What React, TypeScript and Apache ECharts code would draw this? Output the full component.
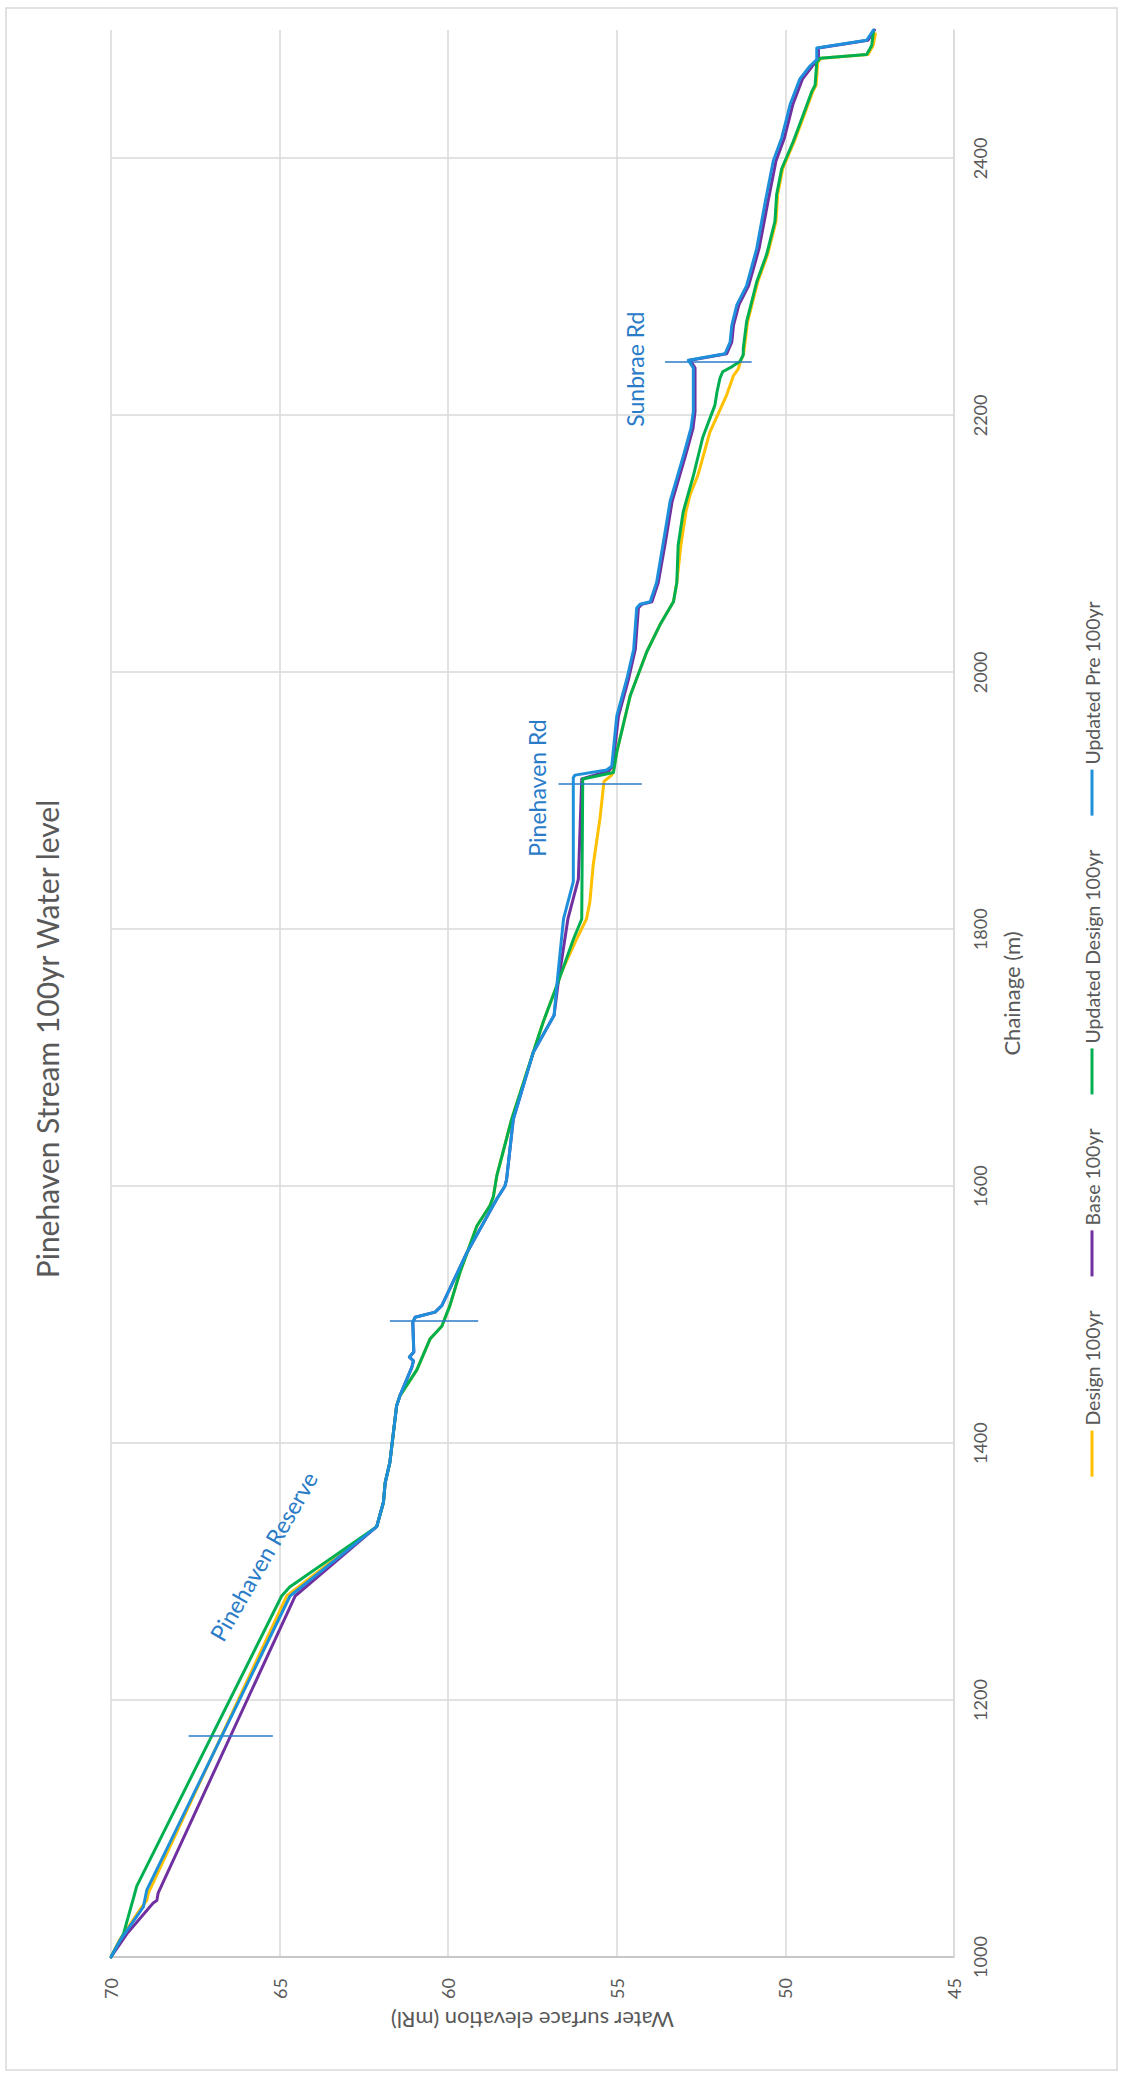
import React, { useEffect, useRef } from "react";
import * as echarts from "echarts";

// Page and chart geometry: the chart is laid out landscape and turned a quarter
// turn counter-clockwise so that it reads like a portrait page.
const PAGE_W = 1124;
const PAGE_H = 2078;

const TITLE = "Pinehaven Stream 100yr Water level";
const X_NAME = "Chainage (m)";
const Y_NAME = "Water surface elevation (mRl)";

const CHAINAGE_MIN = 1000;
const CHAINAGE_MAX = 2500;
const CHAINAGE_STEP = 200;
const LEVEL_MIN = 45;
const LEVEL_MAX = 70;
const LEVEL_STEP = 5;

const seriesNames = ["Design 100yr", "Base 100yr", "Updated Design 100yr", "Updated Pre 100yr"];
const seriesColors = ["#FFC000", "#7030A0", "#00B050", "#1E8FDB"];

// Design 100yr
const designChainage = [
  1000, 1013, 1037, 1044, 1050, 1281, 1335, 1354, 1369, 1385, 1429, 1437, 1457, 1481, 1491,
  1507, 1533, 1569, 1585, 1592, 1600, 1608, 1652, 1712, 1728, 1756, 1769, 1792, 1808, 1821,
  1850, 1886, 1915, 1920, 1924, 1938, 1982, 2016, 2037, 2055, 2070, 2099, 2125, 2138, 2153,
  2187, 2216, 2231, 2236, 2242, 2247, 2252, 2273, 2304, 2325, 2351, 2372, 2392, 2413, 2434,
  2452, 2457, 2475, 2478, 2481, 2488, 2497,
];
const designLevel = [
  70.0, 69.75, 69.14, 68.94, 68.89, 64.79, 62.12, 61.92, 61.87, 61.73, 61.53, 61.43, 60.93,
  60.54, 60.19, 59.95, 59.65, 59.15, 58.76, 58.66, 58.61, 58.56, 58.12, 57.38, 57.18, 56.78,
  56.6, 56.2, 55.9, 55.8, 55.7, 55.5, 55.38, 55.15, 55.1, 55.0, 54.6, 54.11, 53.72, 53.32,
  53.22, 53.1, 52.95, 52.83, 52.6, 52.24, 51.74, 51.54, 51.4, 51.33, 51.25, 51.22, 51.12,
  50.82, 50.53, 50.28, 50.23, 50.08, 49.74, 49.44, 49.19, 49.09, 49.04, 48.94, 47.55, 47.4,
  47.33,
];

// Base 100yr
const baseChainage = [
  1000, 1018, 1042, 1044, 1050, 1281, 1335, 1354, 1369, 1385, 1429, 1437, 1459, 1464, 1467,
  1471, 1494, 1498, 1502, 1507, 1548, 1590, 1600, 1605, 1652, 1704, 1733, 1756, 1808, 1839,
  1917, 1923, 1927, 1966, 1995, 2018, 2050, 2053, 2055, 2070, 2101, 2133, 2151, 2169, 2190,
  2203, 2237, 2243, 2248, 2257, 2270, 2286, 2301, 2330, 2366, 2398, 2416, 2442, 2462, 2472,
  2477, 2486, 2492, 2500,
];
const baseLevel = [
  70.0, 69.53, 68.75, 68.64, 68.6, 64.54, 62.12, 61.92, 61.87, 61.73, 61.53, 61.43, 61.08,
  61.03, 61.15, 61.02, 61.05, 60.98, 60.39, 60.19, 59.45, 58.56, 58.32, 58.27, 58.07, 57.48,
  56.86, 56.75, 56.45, 56.14, 56.04, 55.25, 55.12, 54.95, 54.65, 54.45, 54.36, 54.26, 53.96,
  53.77, 53.56, 53.36, 53.16, 52.96, 52.74, 52.68, 52.68, 52.83, 51.74, 51.59, 51.54, 51.38,
  51.09, 50.78, 50.52, 50.28, 50.03, 49.78, 49.49, 49.2, 49.02, 49.02, 47.55, 47.36,
];

// Updated Design 100yr
const updatedDesignChainage = [
  1000, 1018, 1050, 1055, 1281, 1288, 1335, 1354, 1369, 1385, 1429, 1437, 1457, 1481, 1491,
  1507, 1533, 1569, 1585, 1592, 1600, 1608, 1652, 1712, 1728, 1756, 1792, 1808, 1917, 1922,
  1938, 1982, 2016, 2037, 2055, 2070, 2099, 2125, 2153, 2183, 2208, 2218, 2229, 2234, 2238,
  2242, 2247, 2252, 2273, 2304, 2325, 2351, 2372, 2392, 2413, 2434, 2452, 2457, 2475, 2478,
  2481, 2488, 2499,
];
const updatedDesignLevel = [
  70.0, 69.63, 69.29, 69.24, 64.94, 64.7, 62.12, 61.92, 61.87, 61.73, 61.53, 61.43, 60.93,
  60.54, 60.19, 59.95, 59.65, 59.15, 58.76, 58.66, 58.61, 58.56, 58.12, 57.38, 57.18, 56.78,
  56.29, 56.04, 56.01, 55.1, 55.0, 54.6, 54.11, 53.72, 53.32, 53.22, 53.18, 53.03, 52.73,
  52.45, 52.09, 52.03, 51.94, 51.86, 51.58, 51.35, 51.25, 51.25, 51.15, 50.85, 50.56, 50.31,
  50.26, 50.11, 49.77, 49.47, 49.22, 49.12, 49.07, 48.97, 47.59, 47.44, 47.39,
];

// Updated Pre 100yr
const updatedPreChainage = [
  1000, 1013, 1039, 1052, 1281, 1335, 1354, 1369, 1385, 1429, 1437, 1459, 1464, 1467, 1471,
  1494, 1498, 1502, 1507, 1548, 1590, 1600, 1605, 1652, 1704, 1733, 1756, 1808, 1837, 1912,
  1918, 1920, 1924, 1927, 1966, 1995, 2018, 2050, 2053, 2055, 2070, 2101, 2133, 2151, 2169,
  2190, 2203, 2237, 2243, 2248, 2257, 2270, 2286, 2301, 2330, 2366, 2398, 2416, 2442, 2462,
  2472, 2477, 2486, 2492, 2500,
];
const updatedPreLevel = [
  70.0, 69.73, 69.04, 68.94, 64.69, 62.12, 61.92, 61.87, 61.73, 61.53, 61.43, 61.08, 61.03,
  61.15, 61.02, 61.05, 60.98, 60.39, 60.19, 59.45, 58.56, 58.32, 58.27, 58.07, 57.48, 56.86,
  56.78, 56.58, 56.29, 56.29, 56.29, 56.24, 55.3, 55.15, 55.0, 54.7, 54.5, 54.41, 54.31, 54.01,
  53.82, 53.62, 53.42, 53.22, 53.02, 52.8, 52.73, 52.73, 52.88, 51.79, 51.64, 51.59, 51.44,
  51.15, 50.85, 50.6, 50.36, 50.11, 49.86, 49.57, 49.27, 49.07, 49.07, 47.59, 47.39,
];

// Structure crossings: short markers across the profile
const crossingChainage = [1172, 1495, 1913, 2241];
const crossingLevelTop = [67.7, 61.73, 56.73, 53.57];
const crossingLevelBottom = [65.2, 59.11, 54.26, 51.0];

// Place labels along the stream
const placeNames = ["Pinehaven Reserve", "Pinehaven Rd", "Sunbrae Rd"];
const placeChainage = [1312, 1910, 2236];
const placeLevel = [65.48, 57.38, 54.47];
const placeAngleDeg = [-30, 0, 0];

const FONT = "Lato, 'Open Sans', sans-serif";
const TEXT_GREY = "#595959";
const GRID_GREY = "#D9D9D9";
const NOTE_BLUE = "#2A7BC8";

const pairs = (xs: number[], ys: number[]) => xs.map((x, i) => [x, ys[i]]);
const plainNumber = (v: number) => String(v);

export default function App() {
  const ref = useRef<HTMLDivElement>(null);

  useEffect(() => {
    if (!ref.current) return;
    const chart = echarts.init(ref.current, undefined, { renderer: "svg" });

    const seriesData = [
      pairs(designChainage, designLevel),
      pairs(baseChainage, baseLevel),
      pairs(updatedDesignChainage, updatedDesignLevel),
      pairs(updatedPreChainage, updatedPreLevel),
    ];

    const series: any[] = seriesNames.map((name, i) => ({
      name,
      type: "line",
      data: seriesData[i],
      showSymbol: false,
      symbol: "none",
      smooth: false,
      lineStyle: { color: seriesColors[i], width: 3, join: "round", cap: "round" },
      itemStyle: { color: seriesColors[i] },
      z: 2 + i,
    }));

    series[3].markLine = {
      silent: true,
      symbol: "none",
      label: { show: false },
      lineStyle: { color: NOTE_BLUE, width: 1.5, type: "solid" },
      data: crossingChainage.map((c, i) => [
        { coord: [c, crossingLevelTop[i]] },
        { coord: [c, crossingLevelBottom[i]] },
      ]),
    };

    chart.setOption({
      animation: false,
      backgroundColor: "#FFFFFF",
      title: {
        text: TITLE,
        left: "center",
        top: 27,
        textStyle: { fontFamily: FONT, fontSize: 30, fontWeight: "normal", color: TEXT_GREY },
      },
      legend: {
        data: seriesNames.map((n) => ({ name: n, icon: "rect" })),
        left: "center",
        top: 1082,
        padding: 0,
        itemWidth: 46,
        itemHeight: 3,
        itemGap: 34,
        textStyle: { fontFamily: FONT, fontSize: 19.5, color: TEXT_GREY },
      },
      grid: { left: 121, right: 30, top: 111, bottom: 170, containLabel: false },
      xAxis: {
        type: "value",
        min: CHAINAGE_MIN,
        max: CHAINAGE_MAX,
        interval: CHAINAGE_STEP,
        name: X_NAME,
        nameLocation: "middle",
        nameGap: 46,
        nameTextStyle: { fontFamily: FONT, fontSize: 22, color: TEXT_GREY },
        axisLine: { show: true, lineStyle: { color: GRID_GREY, width: 1.5 } },
        axisTick: { show: false },
        axisLabel: {
          showMaxLabel: false,
          margin: 17,
          formatter: plainNumber,
          fontFamily: FONT,
          fontSize: 18,
          color: TEXT_GREY,
        },
        splitLine: { show: true, showMaxLine: false, lineStyle: { color: GRID_GREY, width: 1.5 } },
      },
      yAxis: {
        type: "value",
        min: LEVEL_MIN,
        max: LEVEL_MAX,
        interval: LEVEL_STEP,
        name: Y_NAME,
        nameLocation: "middle",
        nameRotate: 90,
        nameGap: 48,
        nameTextStyle: { fontFamily: FONT, fontSize: 22, color: TEXT_GREY },
        axisLine: { show: true, lineStyle: { color: "#BFBFBF", width: 1.5 } },
        axisTick: { show: false },
        axisLabel: {
          margin: 21,
          formatter: plainNumber,
          fontFamily: FONT,
          fontSize: 18,
          color: TEXT_GREY,
        },
        splitLine: { show: true, lineStyle: { color: GRID_GREY, width: 1.5 } },
      },
      series,
    });

    // Place labels positioned through the axes' own scales
    const notes = placeNames.map((name, i) => {
      const [px, py] = chart.convertToPixel({ xAxisIndex: 0, yAxisIndex: 0 }, [
        placeChainage[i],
        placeLevel[i],
      ]) as number[];
      return {
        type: "text",
        id: "note" + i,
        x: px,
        y: py,
        rotation: (placeAngleDeg[i] * Math.PI) / 180,
        z: 20,
        style: {
          text: name,
          fontFamily: FONT,
          fontSize: 23,
          fill: NOTE_BLUE,
          align: "center",
          verticalAlign: "middle",
        },
      };
    });

    chart.setOption({
      graphic: [
        {
          type: "rect",
          id: "frame",
          z: 0,
          silent: true,
          shape: { x: 8, y: 6, width: 2062, height: 1111 },
          style: { fill: "none", stroke: GRID_GREY, lineWidth: 1.5 },
        },
        ...notes,
      ],
    });

    return () => chart.dispose();
  }, []);

  return (
    <div
      style={{
        position: "absolute",
        left: 0,
        top: 0,
        width: PAGE_W,
        height: PAGE_H,
        overflow: "hidden",
        background: "#FFFFFF",
      }}
    >
      <div
        ref={ref}
        style={{
          position: "absolute",
          left: 0,
          top: 0,
          width: PAGE_H,
          height: PAGE_W,
          transformOrigin: "0 0",
          transform: `translate(0px, ${PAGE_H}px) rotate(-90deg)`,
        }}
      />
    </div>
  );
}
